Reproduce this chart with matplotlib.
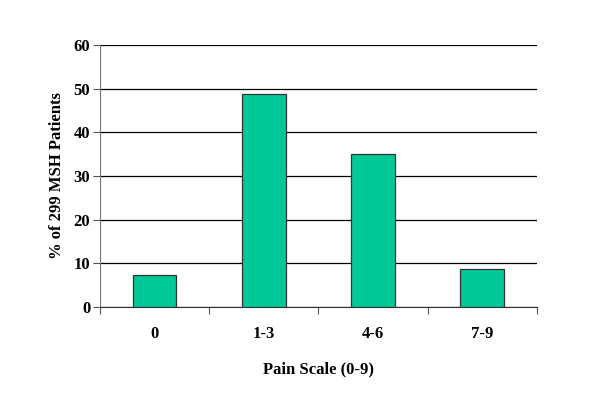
import numpy as np
import matplotlib.pyplot as plt

categories = ["0", "1-3", "4-6", "7-9"]
percent = [7.4, 48.8, 35.1, 8.6]

plt.rcParams['font.family'] = ['Liberation Serif', 'DejaVu Serif']
plt.rcParams['font.weight'] = 'bold'

fig = plt.figure(figsize=(6, 4.12), dpi=100)
ax = fig.add_axes([0.1667, 0.2549, 0.728, 0.6359])

x = np.arange(len(categories))
ax.bar(x, percent, width=0.4, color='#00c896', edgecolor='#333333', linewidth=0.9, zorder=3)

ax.set_xlim(-0.5, len(categories) - 0.5)
ax.set_ylim(0, 60)
ax.set_yticks(range(0, 61, 10))
ax.yaxis.grid(True, color='black', linewidth=0.9, zorder=0)

# category labels centred, ticks between categories
ax.set_xticks(np.arange(-0.5, len(categories), 1.0))
ax.set_xticklabels([])
ax.set_xticks(x, minor=True)
ax.set_xticklabels(categories, minor=True, fontsize=12, fontweight='bold')
ax.tick_params(axis='x', which='minor', length=0, pad=14)
ax.tick_params(axis='x', which='major', length=5, color='#555555', direction='out')
ax.tick_params(axis='y', length=5, color='#555555', labelsize=12, pad=2)

for s in ['top', 'right']:
    ax.spines[s].set_visible(False)
ax.spines['left'].set_color('#777777')
ax.spines['bottom'].set_color('#333333')

ax.set_xlabel("Pain Scale (0-9)", fontsize=12, fontweight='bold', labelpad=14)
ax.set_ylabel("% of 299 MSH Patients", fontsize=12, fontweight='bold', labelpad=6)

fig.savefig("out.png", dpi=100)
